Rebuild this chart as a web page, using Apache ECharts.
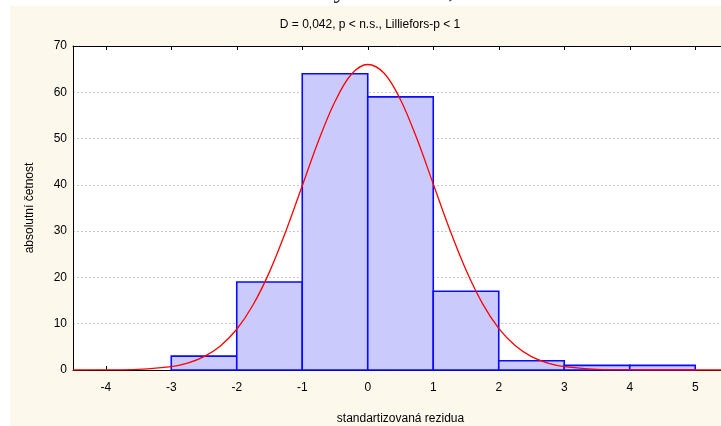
<!DOCTYPE html>
<html>
<head>
<meta charset="utf-8">
<script src="https://cdn.jsdelivr.net/npm/echarts@6/dist/echarts.min.js"></script>
<style>
  html, body { margin: 0; padding: 0; background: #ffffff; }
  #chart { width: 721px; height: 426px; }
</style>
</head>
<body>
<div id="chart"></div>
<script>
var chart = echarts.init(document.getElementById("chart"));

// histogram bins (width 1) and counts
var binStart = [-3, -2, -1, 0, 1, 2, 3, 4];
var binEnd = [-2, -1, 0, 1, 2, 3, 4, 5];
var counts = [3, 19, 64, 59, 17, 2, 1, 1];

// red curve, points
var curveX = [-4.5, -4, -3.5, -3, -2.75, -2.5, -2.25, -2, -1.75, -1.5, -1.25, -1, -0.75, -0.5, -0.25, 0,
              0.25, 0.5, 0.75, 1, 1.25, 1.5, 1.75, 2, 2.25, 2.5, 2.75, 3, 3.5, 4, 4.5, 5, 5.5];
var curveY = [0, 0.02, 0.15, 0.75, 1.5, 2.9, 5.2, 8.8, 14.1, 21.2, 30, 39.8, 49.6, 58, 63.9, 66,
              64.1, 58.4, 50, 40.2, 30.4, 21.6, 14.4, 9, 5.3, 2.9, 1.5, 0.75, 0.15, 0.02, 0, 0, 0];

var xTicks = [-4, -3, -2, -1, 0, 1, 2, 3, 4, 5];

var bins = binStart.map(function (s, i) { return [s, binEnd[i], counts[i]]; });
var curve = curveX.map(function (x, i) { return [x, curveY[i]]; });

var font = "Liberation Sans, Arial, sans-serif";

var option = {
    backgroundColor: "#ffffff",
    animation: false,
    graphic: [
        {
            type: "text",
            left: 283,
            top: -22,
            z: 0,
            style: {
                text: "Analýza reziduí,",
                font: "26px 'Liberation Serif', 'Times New Roman', serif",
                fill: "#222222"
            }
        },
        {
            type: "rect",
            shape: { x: 10, y: 6, width: 711, height: 420 },
            style: { fill: "#fdf8ec" },
            z: -10
        }
    ],
    title: {
        text: "D = 0,042, p < n.s., Lilliefors-p < 1",
        left: 365,
        textAlign: "center",
        top: 14,
        textStyle: {
            fontFamily: font,
            fontSize: 12,
            fontWeight: "normal",
            color: "#000000"
        }
    },
    grid: {
        left: 73,
        top: 46,
        width: 655,
        bottom: 56,
        outerBoundsMode: "none",
        show: true,
        backgroundColor: "#ffffff",
        borderWidth: 0
    },
    xAxis: [
        {
            type: "value",
            min: -4.5,
            max: 5.5,
            name: "standartizovaná rezidua",
            nameLocation: "middle",
            nameGap: 43,
            nameTextStyle: { fontFamily: font, fontSize: 12, color: "#000000" },
            axisLine: { onZero: false, lineStyle: { color: "#000000", width: 1 } },
            axisTick: { show: true, inside: true, length: 4, customValues: xTicks, lineStyle: { color: "#000000" } },
            axisLabel: { customValues: xTicks, margin: 12, fontFamily: font, fontSize: 12, color: "#000000" },
            splitLine: { show: false }
        },
        {
            type: "value",
            position: "top",
            min: -4.5,
            max: 5.5,
            axisLine: { onZero: false, lineStyle: { color: "#000000", width: 1 } },
            axisTick: { show: true, inside: true, length: 4, customValues: xTicks, lineStyle: { color: "#000000" } },
            axisLabel: { show: false },
            splitLine: { show: false }
        }
    ],
    yAxis: {
        type: "value",
        min: 0,
        max: 70,
        interval: 10,
        name: "absolutní četnost",
        nameLocation: "middle",
        nameGap: 37,
        nameTextStyle: { fontFamily: font, fontSize: 12, color: "#000000" },
        axisLine: { show: true, onZero: false, lineStyle: { color: "#000000", width: 1 } },
        axisTick: { show: false },
        axisLabel: { margin: 6, fontFamily: font, fontSize: 12, color: "#000000" },
        splitLine: { lineStyle: { color: "#c8c8c8", type: [2, 2] } }
    },
    series: [
        {
            type: "custom",
            xAxisIndex: 0,
            data: bins,
            encode: { x: [0, 1], y: 2 },
            renderItem: function (params, api) {
                var p0 = api.coord([api.value(0), api.value(2)]);
                var p1 = api.coord([api.value(1), 0]);
                return {
                    type: "rect",
                    shape: { x: p0[0], y: p0[1], width: p1[0] - p0[0], height: p1[1] - p0[1] },
                    style: { fill: "#cacafc", stroke: "#0a0aff", lineWidth: 1.6 }
                };
            },
            z: 2
        },
        {
            type: "line",
            xAxisIndex: 0,
            data: curve,
            smooth: 0.35,
            showSymbol: false,
            lineStyle: { color: "#ff0000", width: 1.3 },
            z: 3
        }
    ]
};

chart.setOption(option);
</script>
</body>
</html>
